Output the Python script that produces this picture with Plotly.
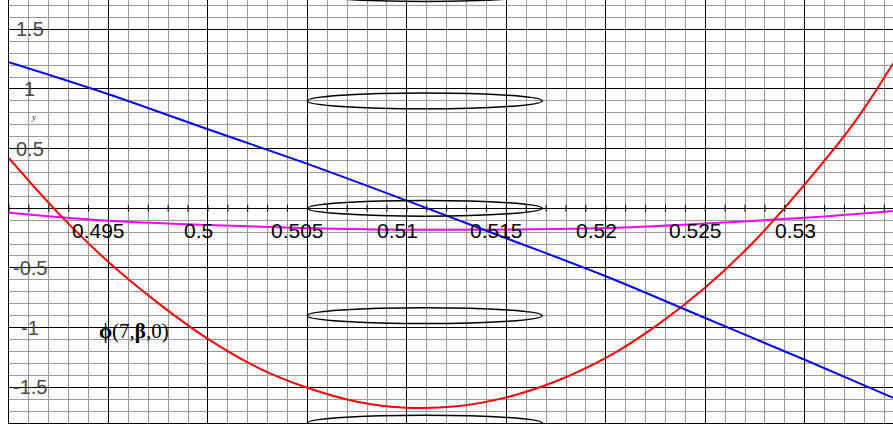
import numpy as np
import plotly.graph_objects as go

# ---- data ----
x_blue = [0.49, 0.495, 0.5, 0.505, 0.51, 0.515, 0.52, 0.525, 0.53, 0.5345]
y_blue = [1.224, 0.956, 0.662, 0.372, 0.064, -0.251, -0.57, -0.92, -1.27, -1.593]

x_red = [0.49, 0.4925, 0.495, 0.4975, 0.5, 0.5025, 0.505, 0.5075, 0.51, 0.5125,
         0.515, 0.5175, 0.52, 0.5225, 0.525, 0.5275, 0.53, 0.5325, 0.53445]
y_red = [0.419, -0.045, -0.45, -0.795, -1.095, -1.335, -1.505, -1.622, -1.672, -1.66,
         -1.585, -1.45, -1.255, -0.99, -0.665, -0.27, 0.2, 0.72, 1.215]

x_mag = [0.49, 0.495, 0.5, 0.505, 0.51, 0.515, 0.52, 0.525, 0.53, 0.5345]
y_mag = [-0.037, -0.104, -0.14, -0.168, -0.18, -0.178, -0.166, -0.128, -0.08, -0.022]

ellipse_centers_y = [-1.8, -0.9, 0.0, 0.9, 1.8]
ellipse_x = [0.505, 0.5168]
ellipse_half_h = 0.066

x_tick_vals = [0.495, 0.5, 0.505, 0.51, 0.515, 0.52, 0.525, 0.53]
x_tick_text = ["0.495", "0.5", "0.505", "0.51", "0.515", "0.52", "0.525", "0.53"]
y_tick_vals = [1.5, 1, 0.5, -0.5, -1, -1.5]
y_tick_text = ["1.5", "1", "0.5", "-0.5", "-1", "-1.5"]
x_minor_ticks = list(np.round(np.arange(0.49, 0.5345, 0.001), 4))

curve_label = "<b>ϕ</b>(7,<b>β</b>,0)"
curve_label_pos = (0.4963, -1.029)
axis_label = "<i>y</i>"
axis_label_y = 0.765

X_RANGE = [0.49, 0.534438]
Y_RANGE = [-1.8, 1.7457]

fig = go.Figure()
fig.add_trace(go.Scatter(x=x_mag, y=y_mag, mode="lines",
                         line=dict(color="#ff00ff", width=2, shape="spline", smoothing=1.0)))
fig.add_trace(go.Scatter(x=x_red, y=y_red, mode="lines",
                         line=dict(color="#ff0000", width=2, shape="spline", smoothing=1.0)))
fig.add_trace(go.Scatter(x=x_blue, y=y_blue, mode="lines",
                         line=dict(color="#0000ff", width=2, shape="spline", smoothing=1.0)))

shapes = []
for cy in ellipse_centers_y:
    shapes.append(dict(type="circle", xref="x", yref="y",
                       x0=ellipse_x[0], x1=ellipse_x[1],
                       y0=cy - ellipse_half_h, y1=cy + ellipse_half_h,
                       line=dict(color="black", width=1.5)))
for t in x_minor_ticks:
    shapes.append(dict(type="line", xref="x", yref="y", x0=t, x1=t,
                       ysizemode="pixel", yanchor=0, y0=-3.5, y1=3.5,
                       line=dict(color="black", width=1)))

annotations = []
for v, s in zip(x_tick_vals, x_tick_text):
    annotations.append(dict(x=v, y=0, xref="x", yref="y", text=s, showarrow=False,
                            xshift=-9.5, yshift=-22, xanchor="center", yanchor="middle",
                            font=dict(family="Liberation Sans", size=21, color="black")))
for v, s in zip(y_tick_vals, y_tick_text):
    annotations.append(dict(x=X_RANGE[0], y=v, xref="x", yref="y", text=s, showarrow=False,
                            xshift=20.5, yshift=0, xanchor="center", yanchor="middle",
                            font=dict(family="Liberation Sans", size=20, color="#4a4a4a")))
annotations.append(dict(x=curve_label_pos[0], y=curve_label_pos[1], xref="x", yref="y",
                        text=curve_label, showarrow=False, xanchor="center", yanchor="middle",
                        font=dict(family="Liberation Serif", size=21, color="black")))
annotations.append(dict(x=X_RANGE[0], y=axis_label_y, xref="x", yref="y",
                        text=axis_label, showarrow=False, xshift=24,
                        xanchor="center", yanchor="middle",
                        font=dict(family="Liberation Serif", size=9, color="#333333")))

fig.update_layout(
    width=893, height=428,
    margin=dict(l=9, r=0, t=0, b=5),
    plot_bgcolor="white", paper_bgcolor="white",
    showlegend=False,
    shapes=shapes, annotations=annotations,
    xaxis=dict(range=X_RANGE, tick0=0.49, dtick=0.005, showgrid=True,
               gridcolor="black", gridwidth=1, showticklabels=False, ticks="",
               zeroline=False, showline=True, linecolor="black", linewidth=1,
               minor=dict(tick0=0.49, dtick=0.001, showgrid=True,
                          gridcolor="#9a9a9a", gridwidth=1)),
    yaxis=dict(range=Y_RANGE, tick0=0, dtick=0.5, showgrid=True,
               gridcolor="black", gridwidth=1, showticklabels=False, ticks="",
               zeroline=True, zerolinecolor="black", zerolinewidth=1,
               showline=True, linecolor="black", linewidth=1,
               minor=dict(tick0=0, dtick=0.1, showgrid=True,
                          gridcolor="#9a9a9a", gridwidth=1)),
)

fig.write_html("out.html",
               config={"displayModeBar": False},
               post_script="document.body.style.margin='0';document.body.style.overflow='hidden';")
